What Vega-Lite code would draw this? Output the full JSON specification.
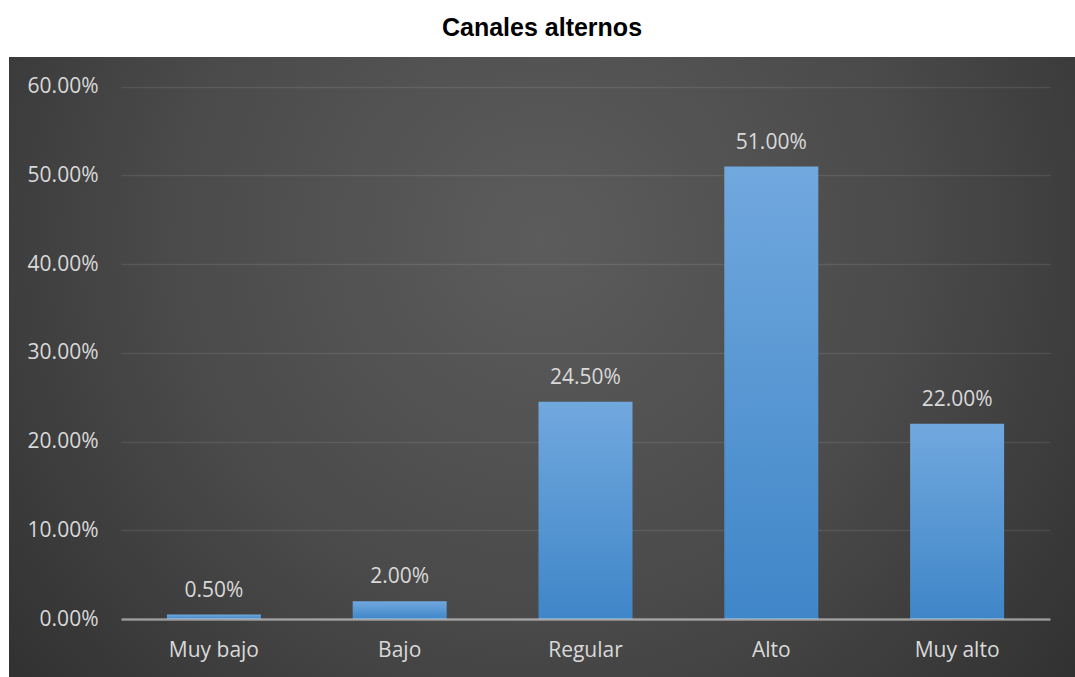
{
  "$schema": "https://vega.github.io/schema/vega-lite/v6.json",
  "width": 1066,
  "height": 620,
  "autosize": "none",
  "padding": {"left": 9, "top": 57, "right": 0, "bottom": 0},
  "background": "white",
  "title": {
    "text": "Canales alternos",
    "font": "Liberation Sans",
    "fontSize": 25,
    "fontWeight": "bold",
    "color": "#000000",
    "anchor": "middle",
    "baseline": "alphabetic",
    "offset": -4
  },
  "config": {
    "view": {
      "stroke": null,
      "fill": {
        "gradient": "radial",
        "x1": 0.5, "y1": 0.38, "r1": 0,
        "x2": 0.5, "y2": 0.38, "r2": 0.78,
        "stops": [
          {"offset": 0, "color": "#5c5c5c"},
          {"offset": 0.45, "color": "#4a4a4a"},
          {"offset": 1, "color": "#262626"}
        ]
      }
    }
  },
  "data": {
    "values": [
      {"nivel": "Muy bajo", "pct": 0.005},
      {"nivel": "Bajo", "pct": 0.02},
      {"nivel": "Regular", "pct": 0.245},
      {"nivel": "Alto", "pct": 0.51},
      {"nivel": "Muy alto", "pct": 0.22}
    ]
  },
  "encoding": {
    "x": {
      "field": "nivel",
      "type": "nominal",
      "sort": null,
      "scale": {"range": [112, 1041], "paddingInner": 0.494, "paddingOuter": 0.247},
      "axis": {
        "title": null,
        "orient": "bottom",
        "offset": -58,
        "labelAngle": 0,
        "ticks": false,
        "labelPadding": 20,
        "labelColor": "#d9d9d9",
        "labelFont": "Open Sans",
        "labelFontSize": 21,
        "domainColor": "#ffffff",
        "domainOpacity": 0.45,
        "domainWidth": 2.5,
        "zindex": 1
      }
    },
    "y": {
      "field": "pct",
      "type": "quantitative",
      "scale": {"domain": [0, 0.6], "range": [562, 29.7], "nice": false},
      "axis": {
        "title": null,
        "values": [0, 0.1, 0.2, 0.3, 0.4, 0.5, 0.6],
        "format": ".2%",
        "offset": -89,
        "ticks": false,
        "domain": false,
        "labelPadding": 0,
        "labelColor": "#d9d9d9",
        "labelFont": "Open Sans",
        "labelFontSize": 21,
        "grid": true,
        "gridColor": "#ffffff",
        "gridOpacity": 0.09,
        "gridWidth": 1.3
      }
    }
  },
  "layer": [
    {
      "mark": {
        "type": "bar",
        "color": {
          "gradient": "linear",
          "x1": 0, "y1": 0, "x2": 0, "y2": 1,
          "stops": [
            {"offset": 0, "color": "#71a8de"},
            {"offset": 1, "color": "#3f86c8"}
          ]
        }
      }
    },
    {
      "mark": {
        "type": "text",
        "baseline": "alphabetic",
        "dy": -18,
        "color": "#d9d9d9",
        "font": "Open Sans",
        "fontSize": 21
      },
      "encoding": {
        "text": {"field": "pct", "type": "quantitative", "format": ".2%"}
      }
    }
  ]
}
